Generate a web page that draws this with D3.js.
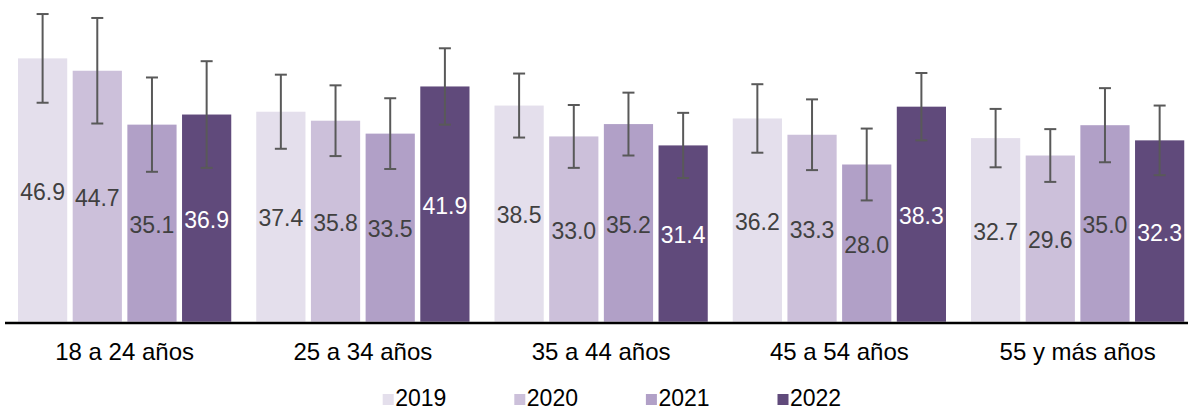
<!DOCTYPE html>
<html lang="es">
<head>
<meta charset="UTF-8">
<title>Grupos de edad 2019-2022</title>
<script src="https://d3js.org/d3.v7.min.js"></script>
<style>
    body { margin: 0; background: #fff; }
    svg { display: block; font-family: "Liberation Sans", Arial, sans-serif; }
    .lbl { font-size: 23px; }
    .cat { font-size: 24px; fill: #000; }
    .leg { font-size: 23px; fill: #000; }
</style>
</head>
<body>
<svg id="chart" width="1188" height="411"></svg>
<script>
const categories = ["18 a 24 años", "25 a 34 años", "35 a 44 años", "45 a 54 años", "55 y más años"];
const seriesNames = ["2019", "2020", "2021", "2022"];
const colors = ["#E4DFEC", "#CCC0DA", "#B1A0C7", "#604A7B"];

const values2019 = [46.9, 37.4, 38.5, 36.2, 32.7];
const values2020 = [44.7, 35.8, 33.0, 33.3, 29.6];
const values2021 = [35.1, 33.5, 35.2, 28.0, 35.0];
const values2022 = [36.9, 41.9, 31.4, 38.3, 32.3];

const err2019 = [7.9, 6.6, 5.7, 6.1, 5.2];
const err2020 = [9.4, 6.3, 5.6, 6.3, 4.7];
const err2021 = [8.4, 6.3, 5.6, 6.4, 6.6];
const err2022 = [9.5, 6.8, 5.8, 6.0, 6.2];

const values = [values2019, values2020, values2021, values2022];
const errors = [err2019, err2020, err2021, err2022];

const data = [];
categories.forEach((c, i) => {
    seriesNames.forEach((s, j) => {
        data.push({cat: c, serie: s, j: j, v: values[j][i], e: errors[j][i]});
    });
});

const svg = d3.select("#chart");
const baseY = 321.7;

const x0 = d3.scaleBand()
    .domain(categories)
    .range([5.5, 1196.75])
    .padding(0);

const x1 = d3.scaleBand()
    .domain(seriesNames)
    .range([12.5, x0.bandwidth() - 12.5])
    .paddingInner(0.1)
    .paddingOuter(0);

const y = d3.scaleLinear()
    .domain([0, 57.3])
    .range([baseY, 0]);

const g = svg.append("g");

const groups = g.selectAll(".grp")
    .data(data)
    .enter().append("g")
    .attr("transform", d => `translate(${x0(d.cat) + x1(d.serie)},0)`);

groups.append("rect")
    .attr("x", 0)
    .attr("y", d => y(d.v))
    .attr("width", x1.bandwidth())
    .attr("height", d => baseY - y(d.v))
    .attr("fill", d => colors[d.j]);

groups.append("text")
    .attr("class", "lbl")
    .attr("x", x1.bandwidth() / 2)
    .attr("y", d => (y(d.v) + baseY) / 2)
    .attr("dy", "0.42em")
    .attr("text-anchor", "middle")
    .attr("fill", d => d.j === 3 ? "#fff" : "#404040")
    .text(d => d.v.toFixed(1));

// barras de error
const eb = groups.append("g")
    .attr("stroke", "#595959")
    .attr("stroke-width", 2)
    .attr("fill", "none");
const cx = x1.bandwidth() / 2;
eb.append("line")
    .attr("x1", cx).attr("x2", cx)
    .attr("y1", d => y(d.v + d.e))
    .attr("y2", d => y(d.v - d.e));
eb.append("line")
    .attr("x1", cx - 6).attr("x2", cx + 6)
    .attr("y1", d => y(d.v + d.e))
    .attr("y2", d => y(d.v + d.e));
eb.append("line")
    .attr("x1", cx - 6).attr("x2", cx + 6)
    .attr("y1", d => y(d.v - d.e))
    .attr("y2", d => y(d.v - d.e));

// eje x
const axis = g.append("g")
    .attr("transform", `translate(0,${baseY})`)
    .call(d3.axisBottom(x0).tickSize(0).tickPadding(0));
axis.select(".domain").remove();
axis.attr("font-size", null).attr("font-family", null);
axis.selectAll("text")
    .attr("class", "cat")
    .attr("y", 38.5)
    .attr("dy", 0);

g.append("line")
    .attr("x1", 5).attr("x2", 1188)
    .attr("y1", baseY + 1.3).attr("y2", baseY + 1.3)
    .attr("stroke", "#000")
    .attr("stroke-width", 2.6);

// leyenda
const legX = d3.scalePoint().domain(seriesNames).range([382.7, 777.5]);
const leg = svg.append("g").selectAll("g")
    .data(seriesNames)
    .enter().append("g")
    .attr("transform", d => `translate(${legX(d)},0)`);
leg.append("rect")
    .attr("x", 0).attr("y", 394)
    .attr("width", 11).attr("height", 11)
    .attr("fill", (d, i) => colors[i]);
leg.append("text")
    .attr("class", "leg")
    .attr("x", 12.5)
    .attr("y", 405.5)
    .text(d => d);
</script>
</body>
</html>
